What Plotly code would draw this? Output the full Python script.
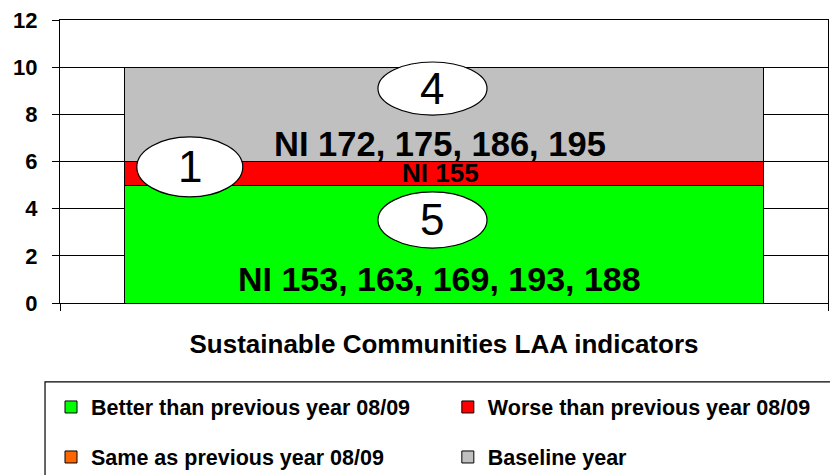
import plotly.graph_objects as go

# data
categories = ["Sustainable Communities LAA indicators"]
series_names = [
    "Better than previous year 08/09",
    "Worse than previous year 08/09",
    "Same as previous year 08/09",
    "Baseline year",
]
series_values = [5, 1, 0, 4]
series_colors = ["#00ff00", "#ff0000", "#ff6600", "#c0c0c0"]
ni_labels = [
    "NI 153, 163, 169, 193, 188",
    "NI 155",
    "",
    "NI 172, 175, 186, 195",
]
y_ticks = [0, 2, 4, 6, 8, 10, 12]

FONT = "Liberation Sans, Arial, sans-serif"

# legend slot for each series (2 x 2 grid under the chart)
legend_ids = ["legend", "legend2", "legend3", "legend4"]

fig = go.Figure()
for name, val, col, lid in zip(series_names, series_values, series_colors, legend_ids):
    fig.add_trace(
        go.Bar(
            x=[0],
            y=[val],
            name=name,
            width=0.833,
            marker=dict(color=col, line=dict(color="black", width=1)),
            legend=lid,
            hoverinfo="name+y",
        )
    )

# NI labels on the segments
starts = []
base = 0
for val in series_values:
    starts.append(base)
    base += val

fig.add_annotation(x=0, y=starts[0], text=ni_labels[0], showarrow=False, xshift=-5,
                   yanchor="bottom", yshift=3, font=dict(size=34, color="black", weight="bold"))
fig.add_annotation(x=0, y=starts[1] + series_values[1] / 2, text=ni_labels[1], showarrow=False,
                   xshift=-4, yanchor="middle", yshift=0,
                   font=dict(size=26, color="black", weight="bold"))
fig.add_annotation(x=0, y=starts[3], text=ni_labels[3], showarrow=False, xshift=-4,
                   yanchor="bottom", yshift=-3, font=dict(size=34.5, color="black", weight="bold"))

# count bubbles
bubbles = [
    (-0.086, 0.056, 7.97, 10.22, series_values[3]),
    (-0.400, -0.262, 4.50, 7.04, series_values[1]),
    (-0.086, 0.056, 2.33, 4.71, series_values[0]),
]
for x0, x1, y0, y1, n in bubbles:
    fig.add_shape(type="circle", xref="x", yref="y", x0=x0, x1=x1, y0=y0, y1=y1,
                  fillcolor="white", line=dict(color="black", width=1.2), layer="above")
    fig.add_annotation(x=(x0 + x1) / 2, y=(y0 + y1) / 2, text=str(n), showarrow=False,
                       font=dict(size=44, color="black"))

# legend frame
fig.add_shape(type="rect", xref="paper", yref="paper",
              x0=-0.0195, x1=1.01, y0=-0.62, y1=-0.279,
              line=dict(color="black", width=1.2), fillcolor="rgba(0,0,0,0)")

legend_common = dict(
    orientation="h",
    xanchor="left",
    yanchor="middle",
    yref="container",
    font=dict(family=FONT, size=21.5, color="black", weight="bold"),
    bgcolor="rgba(0,0,0,0)",
    itemwidth=30,
)

fig.update_layout(
    width=830,
    height=475,
    barmode="stack",
    plot_bgcolor="white",
    paper_bgcolor="white",
    font=dict(family=FONT, color="black"),
    margin=dict(l=60, r=2, t=20, b=172),
    showlegend=True,
    legend=dict(x=-0.0117, y=0.1432, **legend_common),
    legend2=dict(x=0.505, y=0.1432, **legend_common),
    legend3=dict(x=-0.0117, y=0.0379, **legend_common),
    legend4=dict(x=0.505, y=0.0379, **legend_common),
    xaxis=dict(
        range=[-0.5, 0.5],
        tickvals=[-0.5, 0.5],
        ticktext=["", ""],
        ticks="outside",
        ticklen=7,
        tickcolor="black",
        showgrid=False,
        zeroline=False,
        showline=True,
        linecolor="black",
        linewidth=1,
        mirror=True,
        automargin=False,
        title=dict(text=categories[0], font=dict(size=26, weight="bold"), standoff=22),
    ),
    yaxis=dict(
        range=[0, 12],
        tickvals=y_ticks,
        ticks="outside",
        ticklen=7,
        tickcolor="black",
        tickfont=dict(size=22, weight="bold"),
        ticklabelstandoff=10,
        showgrid=True,
        gridcolor="black",
        gridwidth=1,
        zeroline=False,
        showline=True,
        linecolor="black",
        linewidth=1,
        mirror=True,
        automargin=False,
    ),
)

fig.write_html("out.html", config={"displayModeBar": False},
               post_script="document.body.style.margin='0';")
